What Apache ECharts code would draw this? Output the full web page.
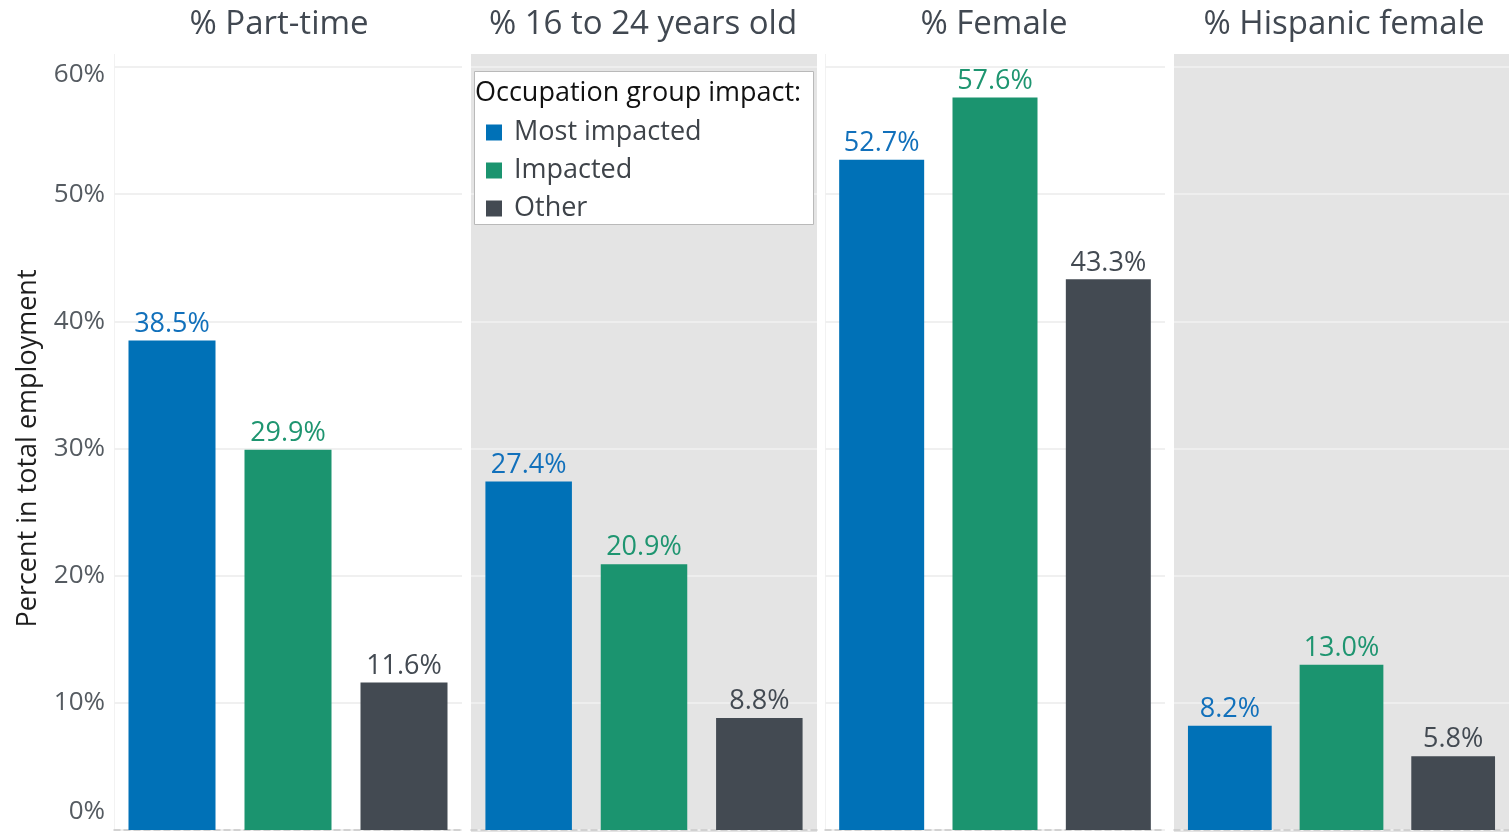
<!DOCTYPE html>
<html>
<head>
<meta charset="utf-8">
<script src="https://cdn.jsdelivr.net/npm/echarts@6/dist/echarts.min.js"></script>
<style>
  html, body { margin: 0; padding: 0; background: #fff; }
  #chart { width: 1509px; height: 832px; }
</style>
</head>
<body>
<div id="chart"></div>
<script>
// Share of employment by occupation-group impact, four demographic measures
const panelTitles = ['% Part-time', '% 16 to 24 years old', '% Female', '% Hispanic female'];
const groups = ['Most impacted', 'Impacted', 'Other'];
const mostImpacted = [38.5, 27.4, 52.7, 8.2];
const impacted = [29.9, 20.9, 57.6, 13.0];
const other = [11.6, 8.8, 43.3, 5.8];
const yMin = 0, yMax = 60, yStep = 10;

const groupValues = [mostImpacted, impacted, other];
const barColors = ['#0071B7', '#1B946F', '#434A52'];
const labelColors = ['#1170BB', '#1E9570', '#434A52'];

// Panel layout (pixels)
const FONT = '"Open Sans", "Noto Sans", sans-serif';
const plotTop = 67, plotBottom = 2;
const panels = [
  { left: 114, width: 348, shaded: false, titleShift: -14 },
  { left: 471, width: 346, shaded: true, titleShift: -6 },
  { left: 825, width: 340, shaded: false, titleShift: -6 },
  { left: 1174, width: 342, shaded: true, titleShift: -6 }
];

const grids = [], xAxes = [], yAxes = [], series = [], titles = [], graphics = [];

panels.forEach((p, pi) => {
  grids.push({ left: p.left, width: p.width, top: plotTop, bottom: plotBottom, containLabel: false });

  if (p.shaded) {
    graphics.push({
      type: 'rect', z: -10, silent: true,
      shape: { x: p.left, y: 54, width: p.width, height: 832 - 54 },
      style: { fill: '#E4E4E4' }
    });
  } else {
    graphics.push({
      type: 'line', z: -10, silent: true,
      shape: { x1: p.left + 0.5, y1: 54, x2: p.left + 0.5, y2: 830 },
      style: { stroke: '#F2F2F2', lineWidth: 1 }
    });
  }

  titles.push({
    text: panelTitles[pi],
    left: p.left + p.width / 2 + p.titleShift,
    top: 3,
    textAlign: 'center',
    textStyle: { fontFamily: FONT, fontSize: 33, fontWeight: 'normal', color: '#414851' }
  });

  xAxes.push({
    type: 'category', gridIndex: pi, data: groups,
    axisLine: { show: true, lineStyle: { color: '#C8C8C8', type: [6, 4], width: 1.5 } },
    axisTick: { show: false }, axisLabel: { show: false }
  });

  yAxes.push({
    type: 'value', gridIndex: pi, min: yMin, max: yMax, interval: yStep,
    axisLine: { show: false }, axisTick: { show: false },
    splitLine: { show: true, lineStyle: { color: p.shaded ? '#EEEEEE' : '#F0F0F0', width: 2 } },
    axisLabel: pi === 0 ? {
      show: true, margin: 9, fontFamily: FONT, fontSize: 26, color: '#555B61',
      formatter: v => v === yMin ? '{lo|' + v + '%}' : (v === yMax ? '{hi|' + v + '%}' : v + '%'),
      rich: {
        lo: { fontFamily: FONT, fontSize: 26, color: '#555B61', padding: [0, 0, 36, 0] },
        hi: { fontFamily: FONT, fontSize: 26, color: '#555B61', padding: [16, 0, 0, 0] }
      }
    } : { show: false },
    name: pi === 0 ? 'Percent in total employment' : '',
    nameLocation: 'middle', nameGap: 72, nameRotate: 90,
    nameTextStyle: { fontFamily: FONT, fontSize: 27, color: '#1E1E1E' }
  });

  groups.forEach((g, gi) => {
    series.push({
      name: g, type: 'bar', xAxisIndex: pi, yAxisIndex: pi, stack: 'panel' + pi,
      barWidth: '75%',
      data: groups.map((_, ci) => ci === gi ? groupValues[gi][pi] : null),
      itemStyle: { color: barColors[gi] },
      label: {
        show: true, position: 'top', distance: 3,
        fontFamily: FONT, fontSize: 27, color: labelColors[gi],
        formatter: prm => prm.value == null ? '' : Number(prm.value).toFixed(1) + '%'
      },
      emphasis: { disabled: true }
    });
  });
});

// Legend box with its heading
graphics.push({
  type: 'rect', z: 50, silent: true,
  shape: { x: 474.5, y: 71.5, width: 339, height: 153 },
  style: { fill: '#FFFFFF', stroke: '#B9B9B9', lineWidth: 1 }
});
graphics.push({
  type: 'text', z: 51, silent: true, x: 475, y: 93,
  style: { text: 'Occupation group impact:', fontFamily: FONT, fontSize: 27, fill: '#111', textVerticalAlign: 'middle', textAlign: 'left' }
});

const chart = echarts.init(document.getElementById('chart'), null, { renderer: 'canvas' });
chart.setOption({
  animation: false,
  backgroundColor: '#FFFFFF',
  title: titles,
  grid: grids,
  xAxis: xAxes,
  yAxis: yAxes,
  series: series,
  graphic: graphics,
  legend: {
    data: groups, orient: 'vertical', left: 481, top: 114, z: 60,
    icon: 'rect', itemWidth: 16, itemHeight: 16, itemGap: 11,
    selectedMode: false,
    textStyle: { fontFamily: FONT, fontSize: 27, color: '#3E4349', padding: [0, 0, 0, 7] }
  }
});
</script>
</body>
</html>
